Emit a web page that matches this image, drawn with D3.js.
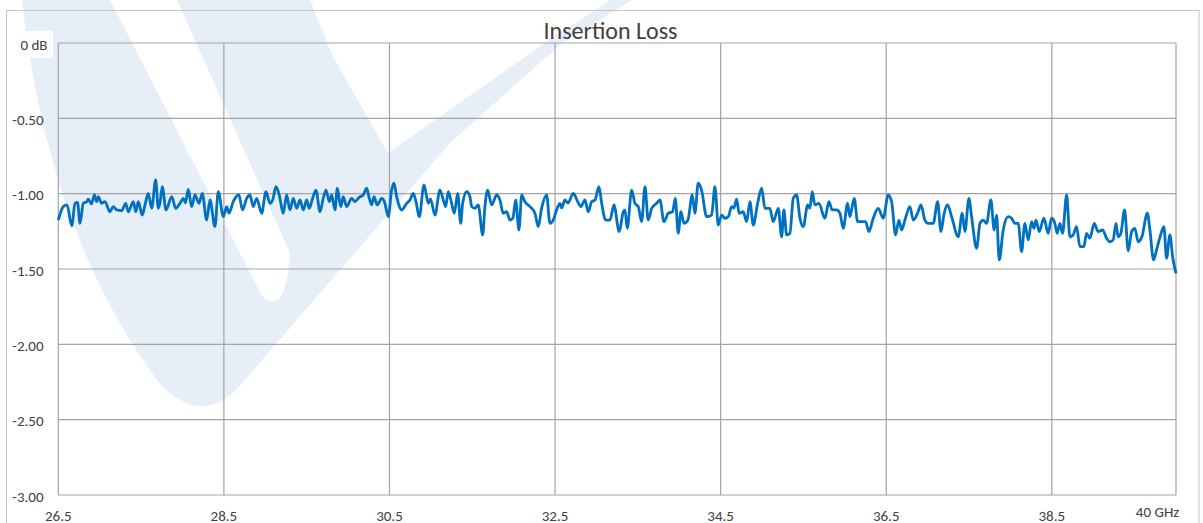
<!DOCTYPE html>
<html><head><meta charset="utf-8">
<script src="https://cdn.jsdelivr.net/npm/d3@7"></script>
<style>
body{margin:0;background:#fff;}
svg{display:block;}
text{font-family:"Carlito","Noto Sans",sans-serif;fill:#404040;}
</style>
</head><body>
<svg id="chart" width="1203" height="523"></svg>
<script>
const title = "Insertion Loss";
const xTicks = [26.5, 28.5, 30.5, 32.5, 34.5, 36.5, 38.5, 40];
const xTickLabels = ["26.5", "28.5", "30.5", "32.5", "34.5", "36.5", "38.5", "40 GHz"];
const yTicks = [0, -0.5, -1, -1.5, -2, -2.5, -3];
const yTickLabels = ["0 dB", "-0.50", "-1.00", "-1.50", "-2.00", "-2.50", "-3.00"];

const freqGHz = [
26.500,26.560,26.605,26.662,26.702,26.732,26.762,26.802,26.843,26.862,26.901,26.935,26.964,26.983,27.024,27.064,27.124,27.164,27.205,27.266,
27.314,27.345,27.406,27.435,27.466,27.514,27.547,27.587,27.628,27.676,27.708,27.728,27.756,27.801,27.870,27.918,27.970,28.010,28.036,28.070,
28.111,28.151,28.199,28.239,28.292,28.332,28.392,28.432,28.493,28.534,28.562,28.613,28.682,28.725,28.775,28.815,28.855,28.896,28.956,29.008,
29.057,29.089,29.129,29.169,29.217,29.258,29.298,29.338,29.379,29.419,29.459,29.500,29.531,29.572,29.612,29.661,29.700,29.733,29.773,29.802,
29.842,29.870,29.911,29.942,29.983,30.043,30.083,30.135,30.183,30.225,30.256,30.285,30.313,30.353,30.406,30.440,30.486,30.526,30.554,30.587,
30.647,30.708,30.748,30.787,30.820,30.860,30.917,30.969,30.995,31.049,31.110,31.150,31.179,31.210,31.251,31.283,31.324,31.360,31.384,31.432,
31.472,31.493,31.532,31.572,31.626,31.653,31.686,31.734,31.795,31.834,31.874,31.915,31.955,31.991,32.024,32.064,32.097,32.136,32.197,32.257,
32.297,32.338,32.398,32.438,32.478,32.519,32.559,32.580,32.620,32.656,32.720,32.773,32.813,32.861,32.901,32.942,32.982,33.030,33.063,33.111,
33.163,33.211,33.275,33.324,33.344,33.372,33.425,33.465,33.505,33.546,33.586,33.625,33.667,33.727,33.767,33.815,33.867,33.920,33.952,33.988,
34.020,34.057,34.105,34.157,34.189,34.229,34.270,34.331,34.391,34.431,34.471,34.512,34.552,34.592,34.633,34.660,34.693,34.724,34.773,34.814,
34.854,34.894,34.947,34.995,35.035,35.095,35.135,35.196,35.237,35.264,35.297,35.337,35.377,35.418,35.458,35.498,35.551,35.578,35.606,35.639,
35.687,35.759,35.808,35.848,35.901,35.941,35.980,36.034,36.061,36.113,36.155,36.203,36.251,36.291,36.343,36.403,36.464,36.524,36.565,36.613,
36.653,36.686,36.726,36.786,36.826,36.879,36.919,36.967,37.007,37.068,37.121,37.161,37.200,37.241,37.290,37.370,37.418,37.450,37.499,37.531,
37.592,37.632,37.672,37.712,37.764,37.804,37.833,37.865,37.913,37.973,38.014,38.054,38.094,38.135,38.175,38.215,38.256,38.284,38.308,38.348,
38.404,38.456,38.497,38.537,38.565,38.598,38.630,38.679,38.718,38.758,38.799,38.839,38.887,38.920,38.960,39.012,39.060,39.113,39.162,39.202,
39.241,39.274,39.302,39.334,39.379,39.423,39.464,39.503,39.543,39.588,39.654,39.685,39.729,39.765,39.806,39.854,39.886,39.926,39.962,40.000
];
const lossDb = [
-1.175,-1.086,-1.075,-1.213,-1.064,-1.058,-1.197,-1.064,-1.053,-1.037,-1.068,-1.009,-1.053,-1.020,-1.064,-1.053,-1.120,-1.086,-1.108,-1.113,
-1.064,-1.120,-1.053,-1.120,-1.053,-1.142,-1.075,-0.998,-1.097,-0.909,-1.097,-1.062,-0.954,-1.108,-1.020,-1.097,-1.064,-1.031,-1.062,-0.971,
-1.086,-1.009,-1.064,-0.998,-1.175,-1.042,-1.219,-0.987,-1.153,-1.086,-1.130,-1.053,-1.009,-1.108,-1.031,-1.009,-1.086,-1.031,-1.130,-0.987,
-1.064,-1.042,-0.954,-1.009,-1.130,-1.009,-1.108,-1.031,-1.097,-1.042,-1.108,-1.042,-1.097,-1.031,-0.976,-1.120,-1.031,-0.976,-1.053,-1.009,
-1.108,-0.964,-1.086,-1.020,-1.086,-1.031,-1.053,-1.024,-1.009,-0.964,-1.031,-1.075,-1.020,-1.075,-1.031,-1.055,-1.153,-0.976,-0.931,-1.020,
-1.108,-1.064,-1.042,-0.998,-1.053,-1.153,-0.942,-1.064,-1.035,-1.142,-0.976,-1.042,-1.086,-0.987,-1.064,-1.130,-0.998,-1.197,-1.064,-0.987,
-1.020,-1.086,-1.097,-1.075,-1.274,-1.086,-0.976,-1.075,-1.009,-1.042,-1.130,-1.120,-1.175,-1.161,-1.042,-1.241,-1.009,-1.053,-1.086,-1.130,
-1.219,-1.097,-1.009,-1.197,-1.175,-1.108,-1.064,-1.095,-1.042,-1.062,-0.998,-1.053,-1.086,-1.042,-1.120,-1.053,-1.042,-0.954,-1.064,-1.175,
-1.175,-1.075,-1.252,-1.120,-1.108,-1.230,-0.976,-1.064,-1.086,-1.186,-0.954,-1.175,-1.097,-1.064,-1.042,-1.186,-1.130,-1.120,-1.031,-1.263,
-1.120,-1.197,-1.175,-1.009,-1.130,-0.931,-0.976,-1.153,-1.142,-0.954,-1.208,-1.142,-1.163,-1.153,-1.086,-1.095,-1.037,-1.130,-1.120,-1.186,
-1.053,-1.208,-1.064,-0.964,-1.097,-1.097,-1.186,-1.097,-1.286,-1.108,-1.274,-1.263,-1.031,-1.009,-1.163,-1.219,-1.075,-1.097,-0.987,-1.075,
-1.064,-1.163,-1.053,-1.108,-1.108,-1.130,-1.230,-1.064,-1.153,-1.031,-1.186,-1.186,-1.186,-1.252,-1.163,-1.097,-1.163,-1.009,-1.053,-1.274,
-1.175,-1.241,-1.175,-1.086,-1.175,-1.130,-1.075,-1.175,-1.197,-1.197,-1.053,-1.252,-1.130,-1.075,-1.153,-1.286,-1.130,-1.252,-1.031,-1.153,
-1.363,-1.197,-1.175,-1.197,-1.042,-1.241,-1.142,-1.440,-1.241,-1.153,-1.163,-1.197,-1.197,-1.385,-1.197,-1.307,-1.186,-1.230,-1.175,-1.252,
-1.163,-1.263,-1.163,-1.197,-1.263,-1.197,-1.263,-1.009,-1.286,-1.274,-1.219,-1.352,-1.352,-1.263,-1.296,-1.197,-1.252,-1.241,-1.296,-1.319,
-1.307,-1.197,-1.286,-1.263,-1.108,-1.380,-1.252,-1.230,-1.319,-1.286,-1.130,-1.241,-1.440,-1.374,-1.290,-1.219,-1.429,-1.274,-1.429,-1.529
];

const svg = d3.select("#chart");
const x = d3.scaleLinear().domain([26.5, 40]).range([58.3, 1176]);
const y = d3.scaleLinear().domain([0, -3]).range([43, 495]);

// background watermark logo (decorative)
const wmColor = "#e6eef7";
const wm = svg.append("g");
wm.append("path").attr("fill", wmColor)
  .attr("d", "M22,0 L310,0 L333,57 L388,153 L545,43 L610,0 L632,0 L562,43 L450,143 L236,390 Q200,425 160,384 Q48,235 22,0 Z");
wm.append("path").attr("fill", "#fff")
  .attr("d", "M110,0 L177,0 L290,253 Q286,318 262,296 Z");

// outer frame
svg.append("rect").attr("x", 6.5).attr("y", 10.5).attr("width", 1192.5).attr("height", 600)
  .attr("fill", "none").attr("stroke", "#c4c4c4").attr("stroke-width", 1);

const grid = svg.append("g").attr("stroke", "#a3a3a3").attr("stroke-width", 1.2);
grid.selectAll("line.h").data(yTicks).join("line").attr("class", "h")
  .attr("x1", x(26.5)).attr("x2", x(40)).attr("y1", d => y(d)).attr("y2", d => y(d));
grid.selectAll("line.v").data(xTicks).join("line").attr("class", "v")
  .attr("x1", d => x(d)).attr("x2", d => x(d)).attr("y1", y(0)).attr("y2", y(-3));

// white label box behind "0 dB"
svg.append("rect").attr("x", 15).attr("y", 31).attr("width", 38).attr("height", 27).attr("fill", "#fff");

svg.append("g").selectAll("text").data(yTicks).join("text")
  .attr("x", (d, i) => i === 0 ? 47.5 : 43.5)
  .attr("y", d => y(d) + 1.5)
  .attr("text-anchor", "end").attr("dominant-baseline", "central")
  .attr("font-size", 15)
  .text((d, i) => yTickLabels[i]);

svg.append("g").selectAll("text").data(xTicks).join("text")
  .attr("x", (d, i) => i === xTicks.length - 1 ? x(d) - 18.5 : x(d))
  .attr("y", (d, i) => i === xTicks.length - 1 ? 511.5 : 515.5)
  .attr("text-anchor", "middle").attr("dominant-baseline", "central")
  .attr("font-size", 15)
  .text((d, i) => xTickLabels[i]);

svg.append("text").attr("x", 610.5).attr("y", 30).attr("text-anchor", "middle")
  .attr("dominant-baseline", "central").attr("font-size", 24).text(title);

const data = freqGHz.map((f, i) => [f, lossDb[i]]);
const line = d3.line().x(d => x(d[0])).y(d => y(d[1])).curve(d3.curveMonotoneX);
svg.append("path").datum(data).attr("fill", "none").attr("stroke", "#0070c0")
  .attr("stroke-width", 2.8).attr("stroke-linejoin", "round").attr("d", line);
</script>
</body></html>
